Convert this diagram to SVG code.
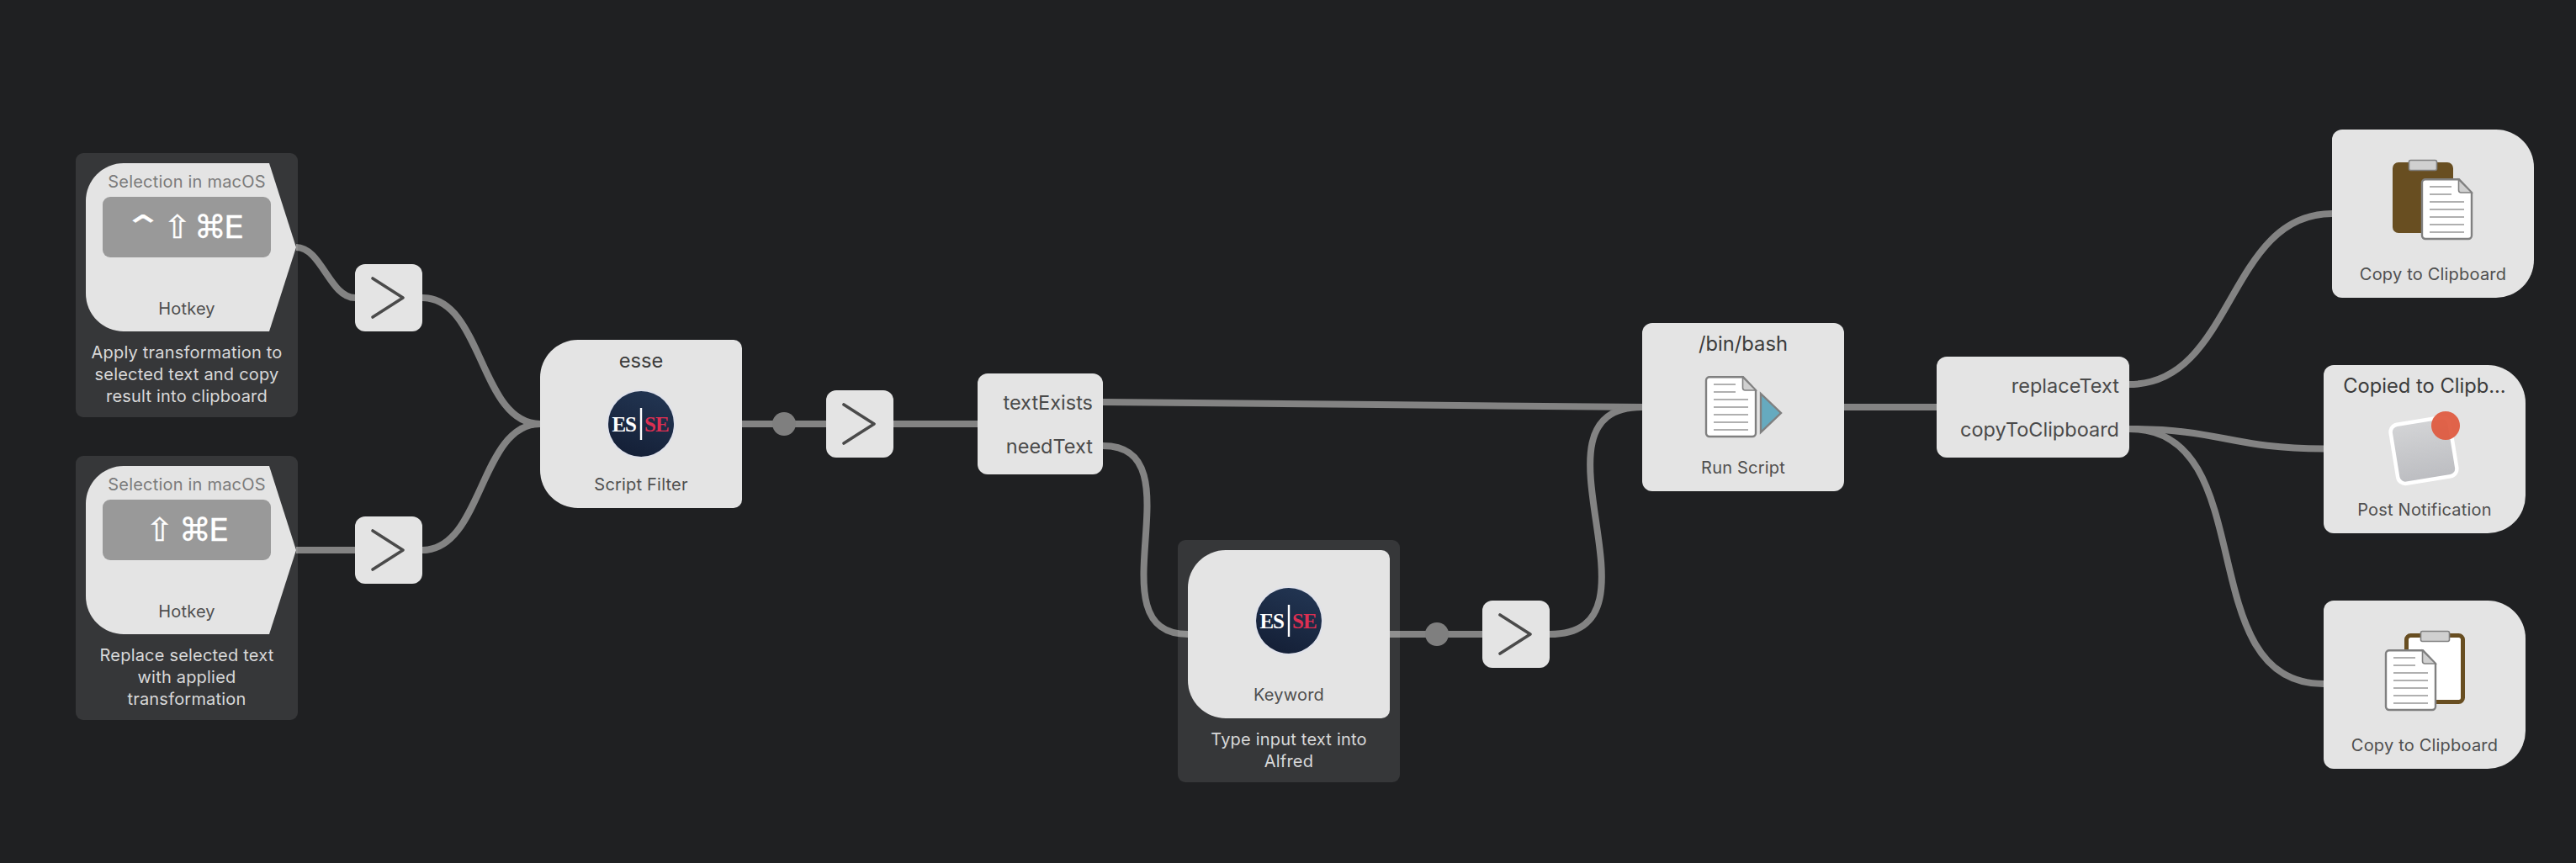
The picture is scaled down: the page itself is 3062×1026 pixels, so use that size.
<svg xmlns="http://www.w3.org/2000/svg" width="3062" height="1026" viewBox="0 0 3062 1026">
<style>
text{font-family:"Inter","Noto Sans","Liberation Sans",sans-serif}
.box{fill:#fff;fill-opacity:.105}
.node{fill:#e4e4e4}
.key{fill:#999}
.keytxt{font-family:"DejaVu Sans",sans-serif;font-size:38px;fill:#fff;stroke:#fff;stroke-width:.3}
.sel{font-size:20px;letter-spacing:.2px;fill:#7b7b7b;text-anchor:middle}
.lab{font-size:20px;letter-spacing:.2px;fill:#4f4f4f;text-anchor:middle}
.sub{font-size:20px;letter-spacing:.2px;fill:#d9d9d9;text-anchor:middle}
.tit{font-size:23.700px;fill:#3b3b3b;text-anchor:middle}
.out{font-size:23.500px;fill:#4a4a4a;text-anchor:end}
.con{fill:none;stroke:#838383;stroke-width:8}
.dot{fill:#7f7f7f}
.chev{fill:none;stroke:#4a4a4a;stroke-width:3.6;stroke-linecap:round;stroke-linejoin:round}
.es{font-family:"Liberation Serif",serif;font-weight:bold;font-size:25px;letter-spacing:-1px;fill:#fff;text-anchor:end}
.se{font-family:"Liberation Serif",serif;font-weight:bold;font-size:25px;letter-spacing:-1px;fill:#dc2f52;text-anchor:start}
.dl{stroke:#b0b0b0;stroke-width:2}
</style>
<defs>
<linearGradient id="navy" x1="0.7" y1="0" x2="0.3" y2="1"><stop offset="0" stop-color="#223552"/><stop offset="1" stop-color="#141f36"/></linearGradient>
<linearGradient id="gray" x1="0" y1="0" x2="0" y2="1"><stop offset="0" stop-color="#d3d4d6"/><stop offset="1" stop-color="#bcbdc1"/></linearGradient>
<g id="doc">
<path d="M5,1.2H45L60,17V68a4,4 0 0 1 -4,4H5a4,4 0 0 1 -4,-4V5a4,4 0 0 1 4,-3.8Z" fill="#fff" stroke="#808080" stroke-width="2.4"/>
<path d="M44.500,1.500V14a3,3 0 0 0 3,3H60Z" fill="#d0d0d0" stroke="#808080" stroke-width="1.600"/>
<path class="dl" d="M10,10H36M10,19H36M10,28H51M10,37H51M10,46H51M10,55H51M10,64H51"/>
</g>
<g id="chevron"><path class="chev" d="M-19,-23L17,0L-19,23"/></g>
<g id="logo">
<circle r="41" fill="#e0e2ea"/>
<circle r="39" fill="url(#navy)"/>
<line x1="0" y1="-19" x2="0" y2="19" stroke="#fff" stroke-width="2.400"/>
</g>
</defs>
<rect width="3062" height="1026" fill="#1f2022"/>
<g id="connectors">
<path class="con" d="M352,294C382,294 392,354 422,354"/>
<path class="con" d="M502,354C574,354 570,504 642,504"/>
<path class="con" d="M352,654H422"/>
<path class="con" d="M502,654C574,654 570,504 642,504"/>
<path class="con" d="M882,504H982"/>
<circle class="dot" cx="932" cy="504" r="14"/>
<path class="con" d="M1062,504H1162"/>
<path class="con" d="M1311,478C1500,478 1760,484 1952,484"/>
<path class="con" d="M1311,530C1428,530 1295,754 1412,754"/>
<path class="con" d="M1652,754H1762"/>
<circle class="dot" cx="1708" cy="754" r="14"/>
<path class="con" d="M1842,754C1992,754 1802,484 1952,484"/>
<path class="con" d="M2192,484H2302"/>
<path class="con" d="M2531,457C2656,457 2647,254 2772,254"/>
<path class="con" d="M2531,510C2641,510 2652,533.500 2762,533.500"/>
<path class="con" d="M2531,510C2691,510 2602,813 2762,813"/>
</g>
<g id="hotkey-1">
<rect class="box" x="90" y="182" width="264" height="314" rx="9"/>
<path class="node" d="M147,194H320L352,294L320,394H147A45,45 0 0 1 102,349V239A45,45 0 0 1 147,194Z"/>
<text class="sel" x="222" y="223">Selection in macOS</text>
<rect class="key" x="122" y="234" width="200" height="72" rx="9"/>
<text class="keytxt" y="283"><tspan x="146" y="283" textLength="48" lengthAdjust="spacingAndGlyphs">⌃</tspan><tspan x="194" y="283" textLength="34" lengthAdjust="spacingAndGlyphs">⇧</tspan><tspan x="231" y="283">⌘</tspan><tspan x="266" y="283">E</tspan></text>
<text class="lab" x="222" y="374">Hotkey</text>
<text class="sub" x="222" y="426">Apply transformation to</text>
<text class="sub" x="222" y="452">selected text and copy</text>
<text class="sub" x="222" y="478">result into clipboard</text>
</g>
<g id="hotkey-2">
<rect class="box" x="90" y="542" width="264" height="314" rx="9"/>
<path class="node" d="M147,554H320L352,654L320,754H147A45,45 0 0 1 102,709V599A45,45 0 0 1 147,554Z"/>
<text class="sel" x="222" y="583">Selection in macOS</text>
<rect class="key" x="122" y="594" width="200" height="72" rx="9"/>
<text class="keytxt" y="643"><tspan x="173" y="643" textLength="34" lengthAdjust="spacingAndGlyphs">⇧</tspan><tspan x="213" y="643">⌘</tspan><tspan x="248" y="643">E</tspan></text>
<text class="lab" x="222" y="734">Hotkey</text>
<text class="sub" x="222" y="786">Replace selected text</text>
<text class="sub" x="222" y="812">with applied</text>
<text class="sub" x="222" y="838">transformation</text>
</g>
<g id="junction-1">
<rect class="node" x="422" y="314" width="80" height="80" rx="12"/>
<use href="#chevron" x="462" y="354"/>
</g>
<g id="junction-2">
<rect class="node" x="422" y="614" width="80" height="80" rx="12"/>
<use href="#chevron" x="462" y="654"/>
</g>
<g id="script-filter">
<path class="node" d="M687,404H872A10,10 0 0 1 882,414V594A10,10 0 0 1 872,604H687A45,45 0 0 1 642,559V449A45,45 0 0 1 687,404Z"/>
<text class="tit" x="762" y="437">esse</text>
<use href="#logo" x="762" y="504"/>
<text class="es" x="756" y="513">ES</text>
<text class="se" x="766" y="513">SE</text>
<text class="lab" x="762" y="583">Script Filter</text>
</g>
<g id="junction-3">
<rect class="node" x="982" y="464" width="80" height="80" rx="12"/>
<use href="#chevron" x="1022" y="504"/>
</g>
<g id="split-1">
<rect class="node" x="1162" y="444" width="149" height="120" rx="12"/>
<text class="out" x="1299" y="487">textExists</text>
<text class="out" x="1299" y="539">needText</text>
</g>
<g id="keyword">
<rect class="box" x="1400" y="642" width="264" height="288" rx="9"/>
<path class="node" d="M1457,654H1642A10,10 0 0 1 1652,664V844A10,10 0 0 1 1642,854H1457A45,45 0 0 1 1412,809V699A45,45 0 0 1 1457,654Z"/>
<use href="#logo" x="1532" y="738"/>
<text class="es" x="1526" y="747">ES</text>
<text class="se" x="1536" y="747">SE</text>
<text class="lab" x="1532" y="833">Keyword</text>
<text class="sub" x="1532" y="886">Type input text into</text>
<text class="sub" x="1532" y="912">Alfred</text>
</g>
<g id="junction-4">
<rect class="node" x="1762" y="714" width="80" height="80" rx="12"/>
<use href="#chevron" x="1802" y="754"/>
</g>
<g id="run-script">
<rect class="node" x="1952" y="384" width="240" height="200" rx="12"/>
<text class="tit" x="2072" y="417">/bin/bash</text>
<use href="#doc" x="2027" y="447"/>
<path d="M2093,468L2117,491L2093,514Z" fill="#66aabf" stroke="#808080" stroke-width="2.400"/>
<text class="lab" x="2072" y="563">Run Script</text>
</g>
<g id="split-2">
<rect class="node" x="2302" y="424" width="229" height="120" rx="12"/>
<text class="out" x="2519" y="467">replaceText</text>
<text class="out" x="2519" y="519">copyToClipboard</text>
</g>
<g id="copy-1">
<path class="node" d="M2784,154H2967A45,45 0 0 1 3012,199V309A45,45 0 0 1 2967,354H2784A12,12 0 0 1 2772,342V166A12,12 0 0 1 2784,154Z"/>
<rect x="2844" y="193" width="72" height="84" rx="7" fill="#684e21"/>
<rect x="2863.500" y="190.500" width="33" height="12" rx="2" fill="#d0d0d0" stroke="#808080" stroke-width="1.600"/>
<use href="#doc" x="2878" y="212"/>
<text class="lab" x="2892" y="333">Copy to Clipboard</text>
</g>
<g id="notification">
<path class="node" d="M2774,434H2957A45,45 0 0 1 3002,479V589A45,45 0 0 1 2957,634H2774A12,12 0 0 1 2762,622V446A12,12 0 0 1 2774,434Z"/>
<text class="tit" x="2882" y="467">Copied to Clipb...</text>
<rect x="2845.500" y="500" width="71" height="71" rx="9" fill="url(#gray)" stroke="#fff" stroke-width="4.500" transform="rotate(-9.200 2881 535.500)"/>
<circle cx="2907" cy="506" r="17" fill="#df5a40" opacity=".94"/>
<text class="lab" x="2882" y="613">Post Notification</text>
</g>
<g id="copy-2">
<path class="node" d="M2774,714H2957A45,45 0 0 1 3002,759V869A45,45 0 0 1 2957,914H2774A12,12 0 0 1 2762,902V726A12,12 0 0 1 2774,714Z"/>
<rect x="2860.500" y="755.500" width="67" height="79" rx="5" fill="#fff" stroke="#684e21" stroke-width="5"/>
<rect x="2877.500" y="750.500" width="34" height="12" rx="2" fill="#d0d0d0" stroke="#808080" stroke-width="1.600"/>
<use href="#doc" x="2835" y="772"/>
<text class="lab" x="2882" y="893">Copy to Clipboard</text>
</g>
</svg>
